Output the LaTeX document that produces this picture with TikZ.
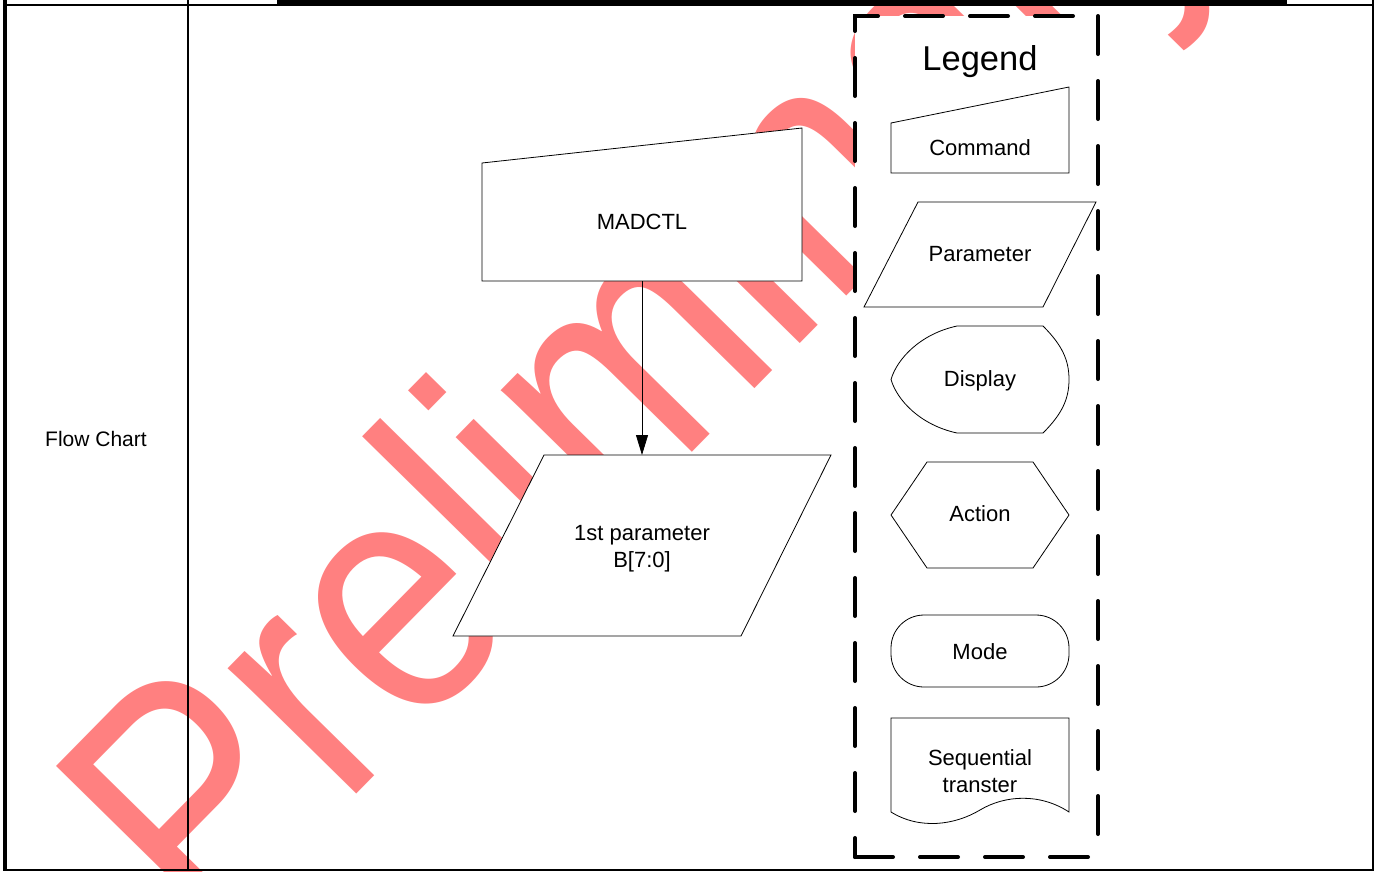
\documentclass[tikz,border=0pt]{standalone}
\usepackage{fontspec}
\setmainfont{Liberation Sans}
\usetikzlibrary{arrows.meta,positioning}
\definecolor{wmSalmon}{HTML}{FF8080}
\begin{document}
\begin{tikzpicture}[x=1pt,y=-1pt,>={Triangle[length=20pt,width=12pt]},line join=miter]
\path[fill=white,use as bounding box] (0,0) rectangle (1381,871);
\tikzset{flowbox/.style={draw=black,fill=white,line width=0.8pt},lbl/.style={font=\fontsize{22}{26.5}\selectfont,align=center,inner sep=0pt,anchor=base},legendline/.style={draw=black,line width=4pt,line cap=round,dash pattern=on 38pt off 27pt}}
% watermark
\node[rotate=45.5,xscale=0.86,anchor=base west,inner sep=0pt,text=wmSalmon,font=\fontsize{340}{340}\selectfont] (wmark) at (206,948) {Preliminary};
% flow chart
\path[flowbox] (482,163) -- (802,128) -- (802,281) -- (482,281) -- cycle;
\node[lbl] (madctl) at (642,229) {MADCTL};
\path[flowbox] (544,455) -- (831,455) -- (741,636) -- (453,636) -- cycle;
\node[lbl] (param1) at (642,567) {1st parameter\\B[7:0]};
\coordinate (madbot) at (642,281); \coordinate (partop) at (642,455);
\draw[->,line width=0.8pt] (madbot) -- (partop);
% legend
\fill[white] (855,16) rectangle (1098,857);
\node[font=\fontsize{34.5}{40}\selectfont,inner sep=0pt,anchor=base] (legend) at (980,70) {Legend};
\path[flowbox] (891,123) -- (1069,87) -- (1069,173) -- (891,173) -- cycle;
\node[lbl] (command) at (980,155) {Command};
\path[flowbox] (918,202) -- (1096,202) -- (1043,307) -- (864,307) -- cycle;
\node[lbl] (parameter) at (980,261.5) {Parameter};
\path[flowbox] (957,326) -- (1043,326) .. controls (1062,345) and (1069,360) .. (1069,379.5) .. controls (1069,399) and (1062,414) .. (1043,433) -- (957,433) .. controls (920,425) and (897,400) .. (891,379.5) .. controls (897,359) and (920,334) .. (957,326) -- cycle;
\node[lbl] (display) at (980,386.5) {Display};
\path[flowbox] (927,462) -- (1033,462) -- (1069,515) -- (1033,568) -- (927,568) -- (891,515) -- cycle;
\node[lbl] (action) at (980,521.5) {Action};
\path[flowbox,rounded corners=33pt] (891,615) rectangle (1069,687);
\node[lbl] (mode) at (980,659) {Mode};
\path[flowbox] (891,718) -- (1069,718) -- (1069,812) .. controls (1040,793) and (1005,795) .. (980,810) .. controls (955,825) and (920,830) .. (891,812) -- cycle;
\node[lbl] (seqtrans) at (980,792) {Sequential\\transter};
\draw[legendline,dash phase=40pt] (1098,16) -- (855,16) -- (855,857);
\draw[legendline] (855,857) -- (1098,857);
\draw[legendline] (1098,16) -- (1098,857);
% table
\node[font=\fontsize{21}{25}\selectfont,inner sep=0pt,anchor=base] (rowname) at (96,446) {Flow Chart};
\fill[black] (277,0) rectangle (1287,5.5);
\draw[line width=1.5pt] (5,4.8) -- (1373,4.8);
\draw[line width=1.5pt] (5,870) -- (1373,870);
\draw[line width=4pt] (5,0) -- (5,871);
\draw[line width=2pt] (188,0) -- (188,871);
\draw[line width=2.5pt] (1373,0) -- (1373,871);
\end{tikzpicture}
\end{document}
